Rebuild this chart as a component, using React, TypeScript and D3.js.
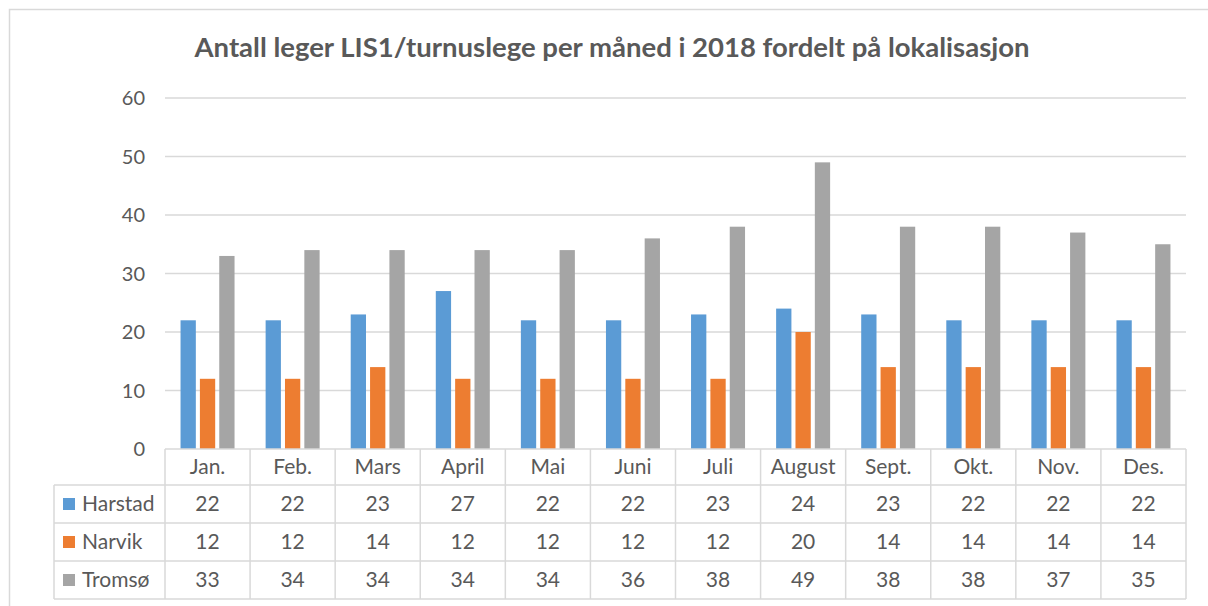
import { useEffect, useRef } from "react";
import * as d3 from "d3";

const months = ["Jan.", "Feb.", "Mars", "April", "Mai", "Juni", "Juli", "August", "Sept.", "Okt.", "Nov.", "Des."];
const harstad = [22, 22, 23, 27, 22, 22, 23, 24, 23, 22, 22, 22];
const narvik = [12, 12, 14, 12, 12, 12, 12, 20, 14, 14, 14, 14];
const tromso = [33, 34, 34, 34, 34, 36, 38, 49, 38, 38, 37, 35];
const seriesNames = ["Harstad", "Narvik", "Tromsø"];
const colors = ["#5b9bd5", "#ed7d31", "#a5a5a5"];
const yTicks = [0, 10, 20, 30, 40, 50, 60];

const W = 1208;
const H = 606;
const font = "Lato, 'Open Sans', sans-serif";

const App = () => {
  const svgRef = useRef<SVGSVGElement>(null);

  useEffect(() => {
    const svg = d3.select(svgRef.current);
    svg.selectAll("*").remove();

    const left = 165;
    const right = 1186;
    const top = 98;
    const bottom = 449;
    const rowY = [449, 485, 523, 561, 599];
    const tableLeft = 54;
    const grid = "#d9d9d9";
    const textColor = "#595959";
    const fs = 21;

    const series = [harstad, narvik, tromso];

    const x = d3.scaleBand().domain(months).range([left, right]);
    const y = d3.scaleLinear().domain([0, 60]).range([bottom, top]);
    const inner = d3.scaleBand().domain(seriesNames).range([-27, 27]).paddingInner(0.21);

    // outer border
    svg.append("rect")
      .attr("x", 9.5).attr("y", 9.5)
      .attr("width", W).attr("height", H)
      .attr("fill", "none").attr("stroke", grid).attr("stroke-width", 1.5);

    svg.append("text")
      .attr("x", 612).attr("y", 57)
      .attr("text-anchor", "middle")
      .attr("font-family", font).attr("font-weight", "bold").attr("font-size", 26)
      .attr("textLength", 835).attr("lengthAdjust", "spacingAndGlyphs")
      .attr("fill", textColor)
      .text("Antall leger LIS1/turnuslege per måned i 2018 fordelt på lokalisasjon");

    // gridlines
    svg.append("g").selectAll("line").data(yTicks.filter((d) => d > 0)).join("line")
      .attr("x1", left).attr("x2", right)
      .attr("y1", (d) => y(d)).attr("y2", (d) => y(d))
      .attr("stroke", grid).attr("stroke-width", 1.3);

    svg.append("g").selectAll("text").data(yTicks).join("text")
      .attr("x", 145).attr("y", (d) => y(d) + 7)
      .attr("text-anchor", "end")
      .attr("font-family", font).attr("font-size", 20)
      .attr("fill", textColor)
      .text((d) => d);

    // bars
    series.forEach((vals, si) => {
      svg.append("g").selectAll("rect").data(vals).join("rect")
        .attr("x", (d, i) => x(months[i])! + x.bandwidth() / 2 + inner(seriesNames[si])!)
        .attr("y", (d) => y(d))
        .attr("width", inner.bandwidth())
        .attr("height", (d) => bottom - y(d))
        .attr("fill", colors[si]);
    });

    // data table
    const t = svg.append("g").attr("stroke", grid).attr("stroke-width", 1.5);
    t.append("line").attr("x1", left).attr("x2", right).attr("y1", rowY[0]).attr("y2", rowY[0]);
    rowY.slice(1).forEach((ry) => {
      t.append("line").attr("x1", tableLeft).attr("x2", right).attr("y1", ry).attr("y2", ry);
    });
    t.append("line").attr("x1", tableLeft).attr("x2", tableLeft).attr("y1", rowY[1]).attr("y2", rowY[4]);
    [...months.map((m) => x(m)!), right].forEach((cx) => {
      t.append("line").attr("x1", cx).attr("x2", cx).attr("y1", rowY[0]).attr("y2", rowY[4]);
    });

    svg.append("g").selectAll("text").data(months).join("text")
      .attr("x", (d) => x(d)! + x.bandwidth() / 2)
      .attr("y", (rowY[0] + rowY[1]) / 2 + 7)
      .attr("text-anchor", "middle")
      .attr("font-family", font).attr("font-size", fs)
      .attr("fill", textColor)
      .text((d) => d);

    series.forEach((vals, si) => {
      const cy = (rowY[si + 1] + rowY[si + 2]) / 2;
      svg.append("rect")
        .attr("x", 63).attr("y", cy - 6)
        .attr("width", 12).attr("height", 12)
        .attr("fill", colors[si]);
      svg.append("text")
        .attr("x", 82).attr("y", cy + 7)
        .attr("font-family", font).attr("font-size", fs)
        .attr("fill", textColor)
        .text(seriesNames[si]);
      svg.append("g").selectAll("text").data(vals).join("text")
        .attr("x", (d, i) => x(months[i])! + x.bandwidth() / 2)
        .attr("y", cy + 7)
        .attr("text-anchor", "middle")
        .attr("font-family", font).attr("font-size", fs)
        .attr("fill", textColor)
        .text((d) => d);
    });
  }, []);

  return <svg ref={svgRef} width={W} height={H} style={{ position: "absolute", left: 0, top: 0, background: "#fff" }}></svg>;
};

export default App;
